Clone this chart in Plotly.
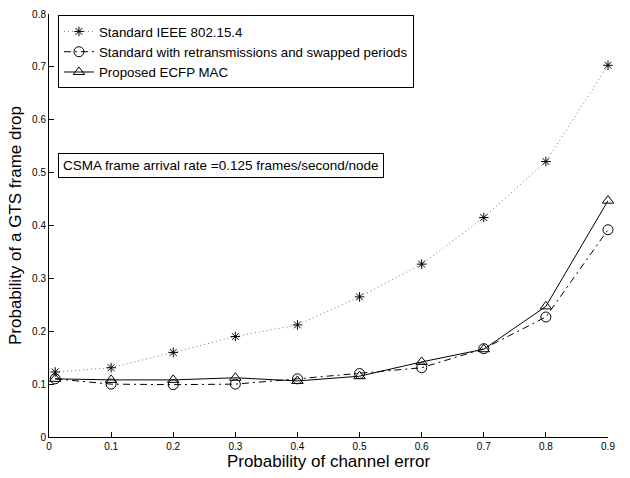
import plotly.graph_objects as go

x_vals = [0.01, 0.1, 0.2, 0.3, 0.4, 0.5, 0.6, 0.7, 0.8, 0.9]
standard = [0.123, 0.131, 0.160, 0.190, 0.212, 0.265, 0.327, 0.415, 0.521, 0.703]
retrans = [0.110, 0.100, 0.099, 0.100, 0.110, 0.120, 0.131, 0.167, 0.227, 0.392]
proposed = [0.110, 0.108, 0.108, 0.112, 0.106, 0.115, 0.142, 0.166, 0.247, 0.447]

names = ["Standard IEEE 802.15.4",
         "Standard with retransmissions and swapped periods",
         "Proposed ECFP MAC"]
x_ticks = [0, 0.1, 0.2, 0.3, 0.4, 0.5, 0.6, 0.7, 0.8, 0.9]
y_ticks = [0, 0.1, 0.2, 0.3, 0.4, 0.5, 0.6, 0.7, 0.8]
annot_text = "CSMA frame arrival rate =0.125 frames/second/node"

font = "Liberation Sans, Arial, sans-serif"

fig = go.Figure()
fig.add_trace(go.Scatter(x=x_vals, y=standard, name=names[0], mode="lines+markers",
                         cliponaxis=False,
                         line=dict(color="#777777", width=1, dash="1px,3px"),
                         marker=dict(symbol="asterisk-open", size=8, color="black",
                                     line=dict(color="black", width=1))))
fig.add_trace(go.Scatter(x=x_vals, y=retrans, name=names[1], mode="lines+markers",
                         cliponaxis=False,
                         line=dict(color="black", width=1, dash="7px,4px,2px,4px"),
                         marker=dict(symbol="circle-open", size=10, color="black",
                                     line=dict(color="black", width=1))))
fig.add_trace(go.Scatter(x=x_vals, y=proposed, name=names[2], mode="lines+markers",
                         cliponaxis=False,
                         line=dict(color="black", width=1),
                         marker=dict(symbol="triangle-up-open", size=10, color="black",
                                     line=dict(color="black", width=1))))

fig.update_layout(
    width=630, height=478,
    margin=dict(l=49, r=22, t=8, b=41),
    plot_bgcolor="white", paper_bgcolor="white",
    font=dict(family=font, color="black"),
    showlegend=True,
    legend=dict(x=0.016, y=0.997, xanchor="left", yanchor="top",
                bordercolor="black", borderwidth=1, bgcolor="white",
                font=dict(size=13.3, family=font), tracegroupgap=0,
                itemwidth=30),
    xaxis=dict(range=[0, 0.9], tickvals=x_ticks,
               ticktext=[("%g" % v) for v in x_ticks],
               ticks="inside", ticklen=5, tickcolor="black",
               showline=True, linecolor="black", linewidth=1,
               showgrid=False, zeroline=False,
               tickfont=dict(size=10),
               title=dict(text="Probability of channel error", font=dict(size=17), standoff=2)),
    yaxis=dict(range=[0, 0.8], tickvals=y_ticks,
               ticktext=[("%g" % v) for v in y_ticks],
               ticks="inside", ticklen=5, tickcolor="black",
               showline=True, linecolor="black", linewidth=1,
               showgrid=False, zeroline=False,
               tickfont=dict(size=10),
               title=dict(text="Probability of a GTS frame drop", font=dict(size=17), standoff=6)),
    annotations=[dict(xref="paper", yref="paper", x=0.016, y=0.642,
                      xanchor="left", yanchor="middle", text=annot_text,
                      showarrow=False, font=dict(size=13.5, family=font),
                      bordercolor="black", borderwidth=1, borderpad=4, bgcolor="white")],
)

fig.write_html("out.html")
